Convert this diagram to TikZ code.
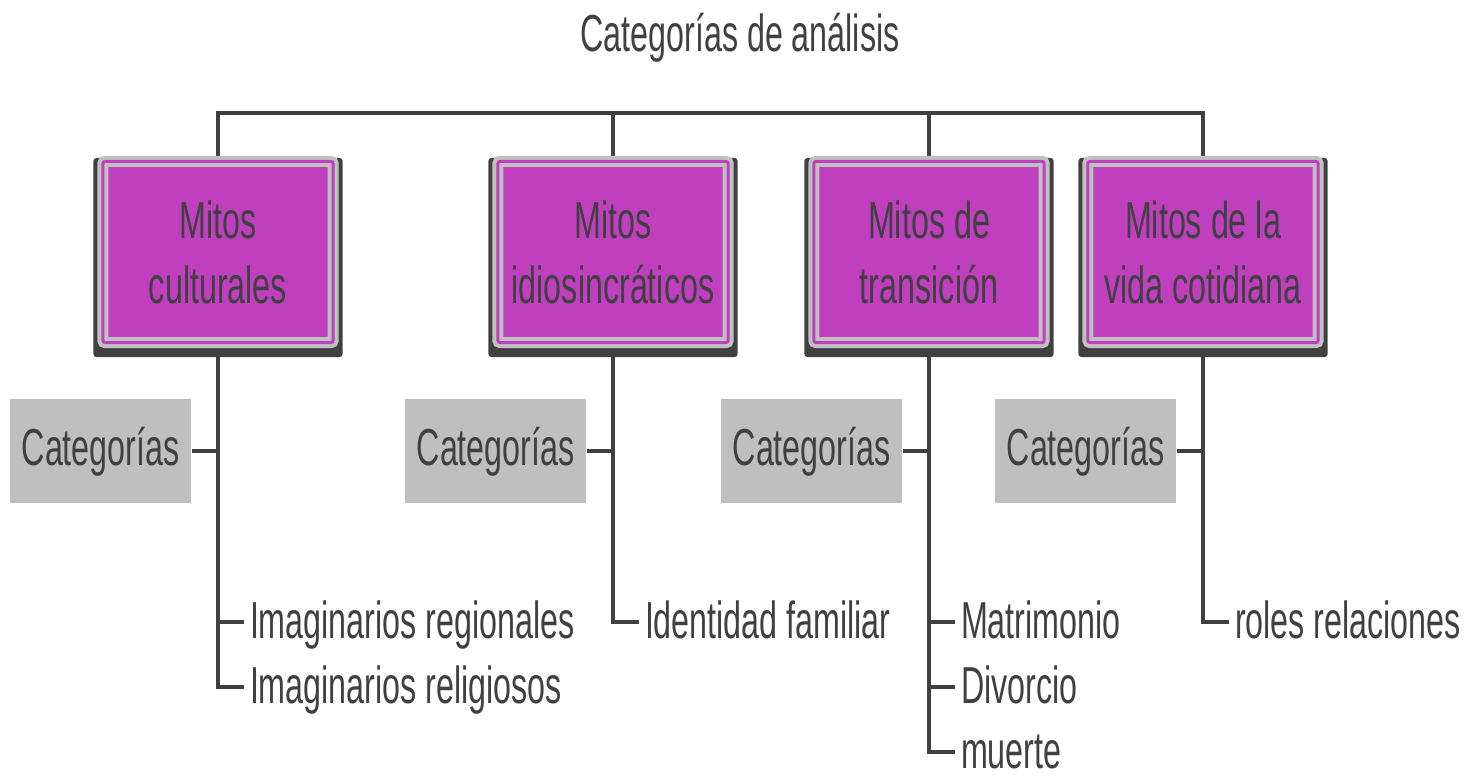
\documentclass[tikz,border=0pt]{standalone}
\usepackage{fontspec}
\setmainfont{Liberation Sans}[FakeStretch=0.62]
\usepackage{tikz}
\usetikzlibrary{backgrounds}
\definecolor{mitofill}{RGB}{191,63,191}
\definecolor{marco}{RGB}{192,192,192}
\definecolor{sombra}{RGB}{64,64,64}
\definecolor{catgris}{RGB}{191,191,191}
\definecolor{tinta}{RGB}{64,64,64}

\begin{document}
\begin{tikzpicture}[x=0.01cm,y=-0.01cm,
    every node/.style={text=tinta,font=\fontsize{14.8pt}{18.5pt}\selectfont},
    tronco/.style={draw=tinta,line width=0.032cm},
    mito/.style={fill=mitofill,draw=marco,double=mitofill,double distance=0.03cm,line width=0.04cm,
        rounded corners=0.02cm,minimum width=2.3cm,minimum height=1.81cm,outer sep=0pt,align=center},
    categ/.style={fill=catgris,minimum width=1.8cm,minimum height=1.04cm,anchor=east,
        text height=0.37cm,text depth=0.08cm},
    hoja/.style={anchor=west,inner sep=0.06cm,outer sep=0pt,text height=0.37cm,text depth=0.05cm}]
    \useasboundingbox (0,0) rectangle (1480,775);
    \node[text height=0.37cm,text depth=0pt] (titulo) at (740,33) {Categorías de análisis};
    \coordinate (barra) at (0,113);
    \node[mito] (m1) at (218,252) {Mitos\\culturales};
    \node[mito] (m2) at (613,252) {Mitos\\idiosincráticos};
    \node[mito] (m3) at (929,252) {Mitos de\\transición};
    \node[mito] (m4) at (1203,252) {Mitos de la\\vida cotidiana};
    \node[categ] (c1) at (192,451) {Categorías};
    \node[categ] (c2) at (587,451) {Categorías};
    \node[categ] (c3) at (903,451) {Categorías};
    \node[categ] (c4) at (1177,451) {Categorías};
    \node[hoja] (h1) at (244,622) {Imaginarios regionales};
    \node[hoja] (h2) at (244,687) {Imaginarios religiosos};
    \node[hoja] (h3) at (639,622) {Identidad familiar};
    \node[hoja] (h4) at (955,622) {Matrimonio};
    \node[hoja] (h5) at (955,687) {Divorcio};
    \node[hoja] (h6) at (955,752) {muerte};
    \node[hoja] (h7) at (1229,622) {roles relaciones};
    \begin{scope}[on background layer]
    \draw[tronco] (m1.center) |- (m4 |- barra) -- (m4.center);
    \draw[tronco] (m2.center) -- (m2 |- barra);
    \draw[tronco] (m3.center) -- (m3 |- barra);
    \draw[tronco] (m1.center) |- (h2.west);
    \draw[tronco] (m1 |- h1) -- (h1.west);
    \draw[tronco] (m2.center) |- (h3.west);
    \draw[tronco] (m3.center) |- (h6.west);
    \draw[tronco] (m3 |- h4) -- (h4.west);
    \draw[tronco] (m3 |- h5) -- (h5.west);
    \draw[tronco] (m4.center) |- (h7.west);
    \foreach \c/\m in {c1/m1,c2/m2,c3/m3,c4/m4}
        \draw[tronco] (\c.east) -- (\m |- \c.east);
    \foreach \m in {m1,m2,m3,m4}
        \fill[sombra,rounded corners=0.03cm] ([shift={(-9.5,-3.5)}]\m.north west) rectangle ([shift={(9.5,14.5)}]\m.south east);
    \end{scope}
\end{tikzpicture}
\end{document}
